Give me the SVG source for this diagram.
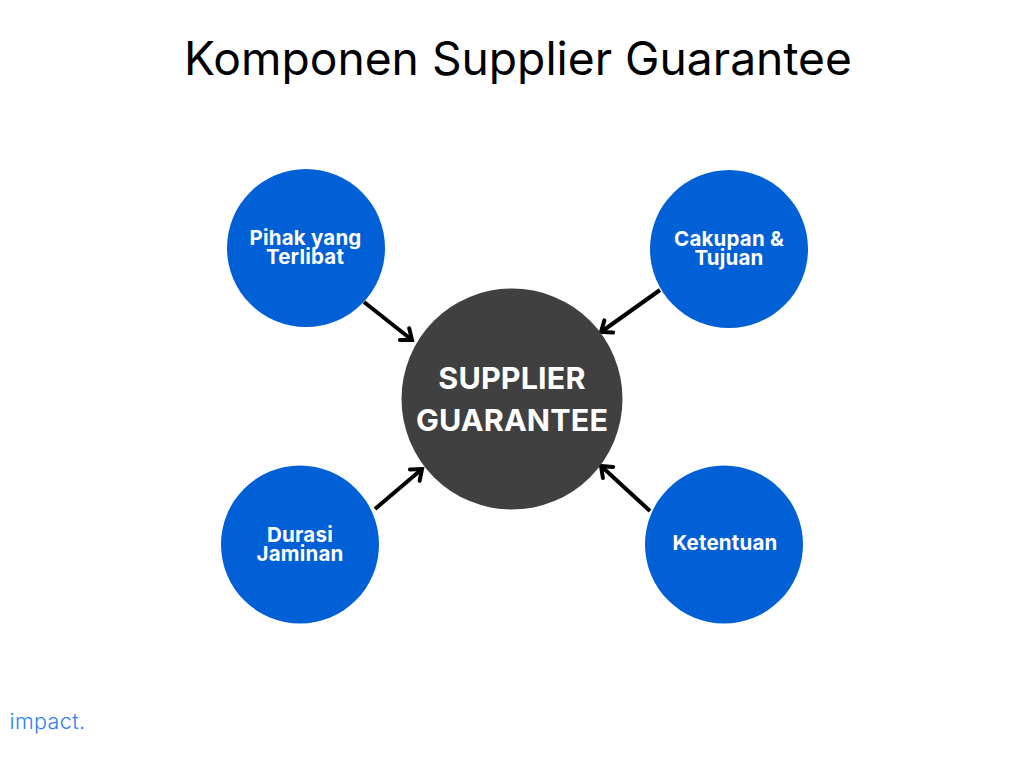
<svg xmlns="http://www.w3.org/2000/svg" width="1024" height="768" viewBox="0 0 1024 768">
<defs>
<marker id="a" markerUnits="userSpaceOnUse" markerWidth="20" markerHeight="20" refX="15" refY="10" orient="auto"><path d="M5.500 2.500L15 10L5.500 17.500" fill="none" stroke="#000" stroke-width="4" stroke-linecap="round"/></marker>
</defs>
<style>
.b{fill:#0260d6}
.t{font-family:"Inter","Open Sans",sans-serif;font-weight:700;font-size:20.500px;letter-spacing:.2px;fill:#fff;text-anchor:middle}
.m{font-family:"Inter",sans-serif;font-weight:700;font-size:30.500px;letter-spacing:.15px;fill:#fff;text-anchor:middle}
.c{stroke:#000;stroke-width:4;fill:none;marker-end:url(#a)}
</style>
<rect width="1024" height="768" fill="#fff"/>
<text x="518" y="75" font-family="Inter,sans-serif" font-size="46.200" fill="#000" text-anchor="middle">Komponen Supplier Guarantee</text>
<g id="connectors">
<line class="c" x1="364" y1="302" x2="412" y2="340"/>
<line class="c" x1="660" y1="290" x2="601" y2="332"/>
<line class="c" x1="375" y1="509" x2="422" y2="469"/>
<line class="c" x1="650" y1="511" x2="601" y2="466"/>
</g>
<g id="center"><circle cx="512" cy="399" r="110.500" fill="#404040"/><text class="m"><tspan x="512" y="389">SUPPLIER</tspan><tspan x="512" y="431">GUARANTEE</tspan></text></g>
<g id="n1"><circle class="b" cx="306" cy="248" r="79"/><text class="t"><tspan x="305.500" y="245">Pihak yang</tspan><tspan x="305" y="264">Terlibat</tspan></text></g>
<g id="n2"><circle class="b" cx="729" cy="249" r="79"/><text class="t"><tspan x="729" y="246">Cakupan &amp;</tspan><tspan x="729" y="265">Tujuan</tspan></text></g>
<g id="n3"><circle class="b" cx="300" cy="544.500" r="79"/><text class="t"><tspan x="300" y="542">Durasi</tspan><tspan x="300" y="561">Jaminan</tspan></text></g>
<g id="n4"><circle class="b" cx="724" cy="544.500" r="79"/><text class="t" x="725" y="550">Ketentuan</text></g>
<text x="47.500" y="729" font-family="Inter,sans-serif" font-weight="300" font-size="21.500" fill="#2f80f0" text-anchor="middle" letter-spacing="0.400">impact.</text>
</svg>
